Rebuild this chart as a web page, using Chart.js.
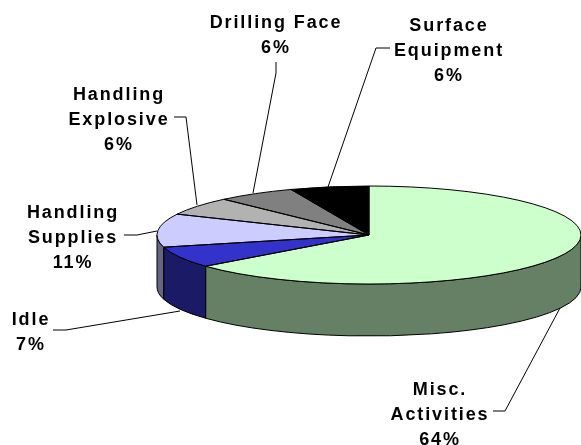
<!DOCTYPE html>
<html lang="en">
<head>
    <meta charset="UTF-8">
    <title>Time by Activity</title>
    <script src="https://cdn.jsdelivr.net/npm/chart.js"></script>
    <style>
        html, body { margin: 0; padding: 0; background: #fff; overflow: hidden; }
        #pie { display: block; }
    </style>
</head>
<body>
    <canvas id="pie" width="581" height="445"></canvas>
    <script>
        const categories = ['Misc. Activities', 'Idle', 'Handling Supplies', 'Handling Explosive', 'Drilling Face', 'Surface Equipment'];
        const percents = [64, 7, 11, 6, 6, 6];
        const topColors = ['#CCFFCC', '#3333CC', '#CCCCFF', '#B2B2B2', '#808080', '#000000'];
        const sideColors = ['#668066', '#1A1A66', '#666680', '#595959', '#404040', '#000000'];

        // label text position and leader line, same order as categories
        const labelLines = [['Misc.', 'Activities'], ['Idle'], ['Handling', 'Supplies'], ['Handling', 'Explosive'], ['Drilling Face'], ['Surface', 'Equipment']];
        const labelX = [440, 31, 73, 119, 276, 449];
        const labelY = [395, 325, 218, 100, 28, 31];
        const leaders = [
            [[493, 411], [505, 411], [560, 308]],
            [[53, 330], [66, 330], [180, 311]],
            [[124, 235], [137, 235], [157, 231]],
            [[174, 117], [186, 117], [197, 205]],
            [[276, 62], [276, 73], [253, 193]],
            [[390, 48], [376, 48], [328, 187]]
        ];

        const squash = 49 / 212;
        const depth = 52;

        const pie3d = {
            id: 'pie3d',
            beforeDatasetsDraw(chart) {
                const ctx = chart.ctx;
                const arcs = chart.getDatasetMeta(0).data;
                // side walls, only the front half of the ellipse shows
                arcs.forEach((arc, i) => {
                    const a = Math.max(arc.startAngle, 0);
                    const b = Math.min(arc.endAngle, Math.PI);
                    if (b <= a) return;
                    const rx = arc.outerRadius, ry = rx * squash;
                    ctx.beginPath();
                    ctx.ellipse(arc.x, arc.y, rx, ry, 0, a, b);
                    ctx.ellipse(arc.x, arc.y + depth, rx, ry, 0, b, a, true);
                    ctx.closePath();
                    ctx.fillStyle = sideColors[i];
                    ctx.fill();
                    ctx.strokeStyle = '#000';
                    ctx.lineWidth = 1;
                    ctx.stroke();
                });
                const first = arcs[0];
                ctx.save();
                ctx.translate(first.x, first.y);
                ctx.scale(1, squash);
                ctx.translate(-first.x, -first.y);
            },
            afterDatasetsDraw(chart) {
                const ctx = chart.ctx;
                ctx.restore();
                // outlines here so the stroke is not squashed with the slices
                chart.getDatasetMeta(0).data.forEach(arc => {
                    const rx = arc.outerRadius, ry = rx * squash;
                    ctx.beginPath();
                    ctx.moveTo(arc.x, arc.y);
                    ctx.ellipse(arc.x, arc.y, rx, ry, 0, arc.startAngle, arc.endAngle);
                    ctx.closePath();
                    ctx.strokeStyle = '#000';
                    ctx.lineWidth = 1;
                    ctx.stroke();
                });
            },
            afterDraw(chart) {
                const ctx = chart.ctx;
                ctx.save();
                ctx.strokeStyle = '#000';
                ctx.lineWidth = 1;
                leaders.forEach(pts => {
                    ctx.beginPath();
                    pts.forEach((p, k) => k ? ctx.lineTo(p[0], p[1]) : ctx.moveTo(p[0], p[1]));
                    ctx.stroke();
                });
                ctx.fillStyle = '#000';
                ctx.font = 'bold 18px "Liberation Sans", Arial, sans-serif';
                ctx.letterSpacing = '1.9px';
                ctx.textAlign = 'center';
                ctx.textBaseline = 'alphabetic';
                labelLines.forEach((lines, i) => {
                    const rows = lines.concat(percents[i] + '%');
                    rows.forEach((row, k) => ctx.fillText(row, labelX[i], labelY[i] + k * 25));
                });
                ctx.restore();
            }
        };

        new Chart(document.getElementById('pie'), {
            type: 'pie',
            data: {
                labels: categories,
                datasets: [{
                    data: percents,
                    backgroundColor: topColors,
                    borderWidth: 0,
                    clip: false
                }]
            },
            options: {
                responsive: false,
                animation: false,
                events: [],
                radius: 212,
                layout: { padding: { left: 157, top: 25 } },
                plugins: { legend: { display: false }, tooltip: { enabled: false } }
            },
            plugins: [pie3d]
        });
    </script>
</body>
</html>
